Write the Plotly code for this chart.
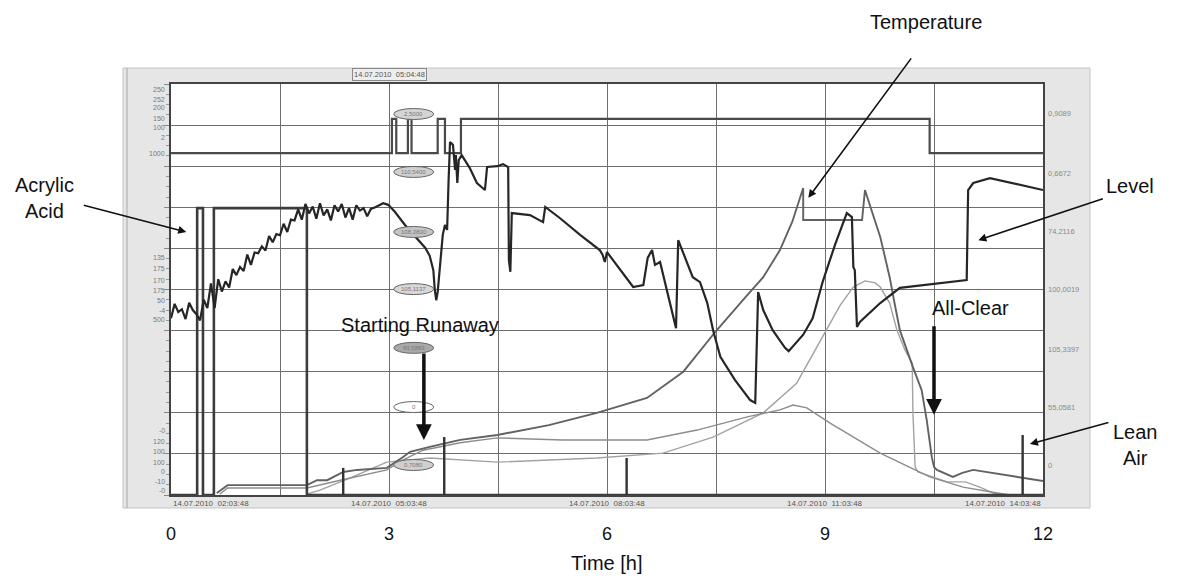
import plotly.graph_objects as go

# ---------------- data (hours since 14.07.2010 02:03:48, values in chart grid units 0-10) ----------------
LEVEL_T = [0.00, 0.05, 0.10, 0.15, 0.20, 0.25, 0.30, 0.35, 0.40, 0.45, 0.50, 0.55, 0.60, 0.65, 0.70,
           0.75, 0.80, 0.85, 0.90, 0.95, 1.00, 1.05, 1.10, 1.15, 1.20, 1.25, 1.30, 1.35, 1.40, 1.45,
           1.50, 1.55, 1.60, 1.65, 1.70, 1.75, 1.80, 1.85, 1.90, 1.95, 2.00, 2.05, 2.10, 2.15, 2.20,
           2.25, 2.30, 2.35, 2.40, 2.45, 2.50, 2.55, 2.60, 2.65, 2.70, 2.75,
           2.81, 2.92, 2.99, 3.08, 3.22, 3.36, 3.50, 3.56, 3.61, 3.63, 3.65, 3.67, 3.70, 3.74, 3.77,
           3.80, 3.82, 3.84, 3.88, 3.91, 3.92, 3.94, 3.96, 4.00, 4.11, 4.21, 4.32, 4.35, 4.49, 4.57,
           4.64, 4.65, 4.67, 4.69, 4.94, 5.12, 5.15, 5.35, 5.63, 5.90, 5.94, 5.97, 6.00, 6.18, 6.36,
           6.50, 6.56, 6.62, 6.66, 6.73, 6.95, 6.98, 7.18, 7.28, 7.38, 7.46, 7.56, 7.76, 7.97, 8.04,
           8.08, 8.15, 8.28, 8.45, 8.50, 8.70, 8.83, 8.97, 9.14, 9.30, 9.37, 9.39, 9.41, 9.44, 9.48,
           9.76, 10.03, 10.95, 10.97, 11.04, 11.27, 12.00]
LEVEL_V = [4.30, 4.65, 4.45, 4.52, 4.28, 4.68, 4.50, 4.40, 4.25, 4.75, 4.55, 5.15, 4.55, 5.25, 4.95,
           5.20, 5.05, 5.50, 5.35, 5.55, 5.45, 5.85, 5.60, 5.90, 5.88, 6.05, 5.95, 6.30, 6.15, 6.35,
           6.32, 6.60, 6.40, 6.70, 6.68, 6.95, 6.70, 7.08, 6.85, 7.02, 6.72, 7.10, 6.80, 6.95, 6.68,
           7.05, 6.90, 7.08, 6.75, 6.98, 6.70, 7.05, 6.92, 6.98, 6.78, 6.96,
           7.00, 7.10, 7.06, 6.89, 6.57, 6.28, 6.01, 5.82, 5.47, 4.99, 4.74, 4.94, 5.47, 6.33, 6.57,
           6.45, 7.66, 8.59, 8.52, 7.91, 8.27, 7.59, 8.15, 8.27, 7.96, 7.59, 7.42, 7.98, 8.00, 8.05,
           7.98, 5.72, 5.43, 6.86, 6.81, 6.64, 7.01, 6.74, 6.33, 5.96, 5.84, 5.67, 5.91, 5.47, 5.06,
           5.11, 5.77, 5.96, 5.60, 5.67, 4.06, 6.20, 5.30, 5.18, 4.67, 4.01, 3.36, 2.80, 2.31, 2.24,
           4.94, 4.50, 4.01, 3.58, 3.50, 3.90, 4.30, 5.20, 6.10, 6.86, 6.76, 5.55, 5.47, 4.09, 4.21,
           4.67, 5.04, 5.23, 7.42, 7.59, 7.71, 7.42]

TEMP_T = [0.63, 0.78, 1.87, 1.91, 2.01, 2.15, 2.28, 2.37, 2.56, 2.97, 3.19, 3.29, 3.56, 3.98, 4.49,
          5.20, 5.86, 6.55, 7.05, 7.50, 7.90, 8.15, 8.38, 8.55, 8.70, 8.70, 9.51, 9.55, 9.76, 9.89,
          9.97, 10.03, 10.21, 10.33, 10.40, 10.47, 10.50, 10.54, 10.76, 10.89, 11.04, 12.00]
TEMP_V = [0.05, 0.24, 0.24, 0.27, 0.36, 0.36, 0.49, 0.56, 0.61, 0.66, 0.92, 1.05, 1.17, 1.34, 1.46,
          1.70, 2.00, 2.36, 3.00, 3.99, 4.80, 5.30, 5.96, 6.65, 7.47, 6.69, 6.69, 7.42, 6.28, 5.30,
          4.55, 4.01, 3.11, 2.55, 1.82, 0.92, 0.68, 0.61, 0.44, 0.54, 0.61, 0.34]

CURVE2_T = [0.67, 0.78, 1.87, 1.98, 2.33, 2.97, 3.19, 3.47, 3.98, 4.49, 5.39, 6.55, 7.24, 7.93, 8.38,
            8.56, 8.75, 9.07, 9.76, 10.44, 10.90, 11.37, 11.55]
CURVE2_V = [0.02, 0.17, 0.17, 0.22, 0.36, 0.61, 0.85, 1.09, 1.27, 1.39, 1.34, 1.34, 1.58, 1.90, 2.07,
            2.19, 2.12, 1.75, 1.02, 0.44, 0.19, 0.05, 0.00]

CURVE3_T = [1.87, 2.05, 2.46, 2.97, 3.56, 4.49, 5.86, 6.77, 7.46, 8.15, 8.61, 8.97, 9.21, 9.39, 9.55,
            9.69, 9.76, 9.89, 9.99, 10.10, 10.20, 10.21, 10.24, 10.28, 10.68, 10.93, 11.13, 11.31, 11.45]
CURVE3_V = [0.02, 0.12, 0.41, 0.80, 0.90, 0.80, 0.90, 1.02, 1.41, 2.00, 2.72, 3.84, 4.62, 5.06, 5.21,
            5.16, 5.06, 4.67, 4.01, 3.53, 3.21, 2.00, 0.68, 0.56, 0.32, 0.32, 0.19, 0.05, 0.00]

# acrylic acid dosing (step signal)
ACRYL_T = [0.00, 0.36, 0.44, 0.59, 1.87, 12.00]
ACRYL_V = [0.00, 6.98, 0.00, 6.98, 0.00, 0.00]

# lean air pulses
LEAN_T = [2.37, 3.76, 6.27, 11.72]
LEAN_V = [0.66, 1.41, 0.90, 1.46]

# top digital signal
SIG_T = [0.00, 3.04, 3.10, 3.26, 3.31, 3.67, 3.77, 3.99, 10.44, 12.00]
SIG_LOW, SIG_HIGH = 8.32, 9.15
SIG_STATE = [0, 1, 0, 1, 0, 1, 0, 1, 0, 0]

X_TICKS = [0, 1.5, 3, 4.5, 6, 7.5, 9, 10.5, 12]
X_TICKTEXT = ['0', '', '3', '', '6', '', '9', '', '12']

DATE_LABELS = [(0, '14.07.2010  02:03:48', 'left'), (3, '14.07.2010  05:03:48', 'center'),
               (6, '14.07.2010  08:03:48', 'center'), (9, '14.07.2010  11:03:48', 'center'),
               (12, '14.07.2010  14:03:48', 'right')]
RIGHT_LABELS = [('0,9089', 9.29), ('0,6672', 7.83), ('74,2116', 6.42), ('100,0019', 4.99),
                ('105,3397', 3.55), ('55,0581', 2.14), ('0', 0.73)]
LEFT_LABELS = [('250', 9.86), ('252', 9.62), ('200', 9.42), ('150', 9.17), ('100', 8.95), ('2', 8.7),
               ('1000', 8.32), ('135', 5.77), ('175', 5.52), ('170', 5.23), ('175', 4.97),
               ('50', 4.74), ('-4', 4.5), ('500', 4.26), ('-0', 1.58), ('120', 1.31), ('100', 1.05),
               ('100', 0.8), ('0', 0.58), ('-10', 0.34), ('-0', 0.1)]
OVALS = [('2,5000', 9.27, '#d4d4d4'), ('110,5400', 7.86, '#cfcfcf'), ('108,2800', 6.40, '#c4c4c4'),
         ('105,1137', 5.01, '#d8d8d8'), ('83,5883', 3.58, '#a9a9a9'), ('0', 2.14, '#ffffff'),
         ('0,7080', 0.73, '#d0d0d0')]
OVAL_T = 3.34

# ---------------- figure ----------------
L, R, T, B = 171, 1043, 84, 495
W, H = 1177, 577


def pxx(px):
    return (px - L) / (R - L)


def pxy(py):
    return (B - py) / (B - T)


fig = go.Figure()

fig.add_trace(go.Scatter(x=CURVE3_T, y=CURVE3_V, mode='lines', line=dict(color='#a2a2a2', width=1.4)))
fig.add_trace(go.Scatter(x=CURVE2_T, y=CURVE2_V, mode='lines', line=dict(color='#8c8c8c', width=1.4)))
fig.add_trace(go.Scatter(x=TEMP_T, y=TEMP_V, mode='lines', line=dict(color='#626262', width=1.9)))
fig.add_trace(go.Scatter(x=SIG_T, y=[SIG_HIGH if s else SIG_LOW for s in SIG_STATE], mode='lines',
                         line=dict(color='#4a4a4a', width=2.2, shape='hv')))
fig.add_trace(go.Scatter(x=ACRYL_T, y=ACRYL_V, mode='lines', line=dict(color='#3c3c3c', width=2.6, shape='hv')))
lx, ly = [], []
for t, v in zip(LEAN_T, LEAN_V):
    lx += [t, t, None]
    ly += [0, v, None]
fig.add_trace(go.Scatter(x=lx, y=ly, mode='lines', line=dict(color='#333333', width=2.4)))
fig.add_trace(go.Scatter(x=LEVEL_T, y=LEVEL_V, mode='lines', line=dict(color='#262626', width=2.2)))

shapes = [
    dict(type='rect', xref='paper', yref='paper', x0=pxx(123), x1=pxx(1090), y0=pxy(508), y1=pxy(68),
         fillcolor='#e6e6e6', line=dict(color='#c4c4c4', width=1), layer='below'),
    dict(type='line', xref='paper', yref='paper', x0=pxx(127), x1=pxx(127), y0=pxy(508), y1=pxy(68),
         line=dict(color='#bdbdbd', width=1.5), layer='below'),
    dict(type='rect', xref='paper', yref='paper', x0=0, x1=1, y0=0, y1=1,
         fillcolor='white', line=dict(width=0), layer='below'),
]
for txt, v, fc in OVALS:
    shapes.append(dict(type='circle', xref='x', yref='y', xsizemode='pixel', ysizemode='pixel',
                       xanchor=OVAL_T, yanchor=v, x0=-20, x1=20, y0=-5.5, y1=5.5,
                       fillcolor=fc, line=dict(color='#666666', width=1), layer='above'))

ann = []
for t, txt, al in DATE_LABELS:
    ann.append(dict(x=t, y=0, xref='x', yref='y', text=txt, showarrow=False, xanchor=al, yanchor='top',
                    yshift=-2, font=dict(size=8, color='#555555', family='Liberation Sans')))
for txt, v in RIGHT_LABELS:
    ann.append(dict(x=1, y=v, xref='paper', yref='y', text=txt, showarrow=False, xanchor='left',
                    yanchor='middle', xshift=3, font=dict(size=7.5, color='#8a8a8a', family='Liberation Sans')))
for txt, v in LEFT_LABELS:
    ann.append(dict(x=0, y=v, xref='paper', yref='y', text=txt, showarrow=False, xanchor='right',
                    yanchor='middle', xshift=-4, font=dict(size=7, color='#7a7a7a', family='Liberation Sans')))
for txt, v, fc in OVALS:
    ann.append(dict(x=OVAL_T, y=v, xref='x', yref='y', text=txt, showarrow=False,
                    xanchor='center', yanchor='middle',
                    font=dict(size=6, color='#777777', family='Liberation Sans')))
ann.append(dict(x=3.0, y=1, xref='x', yref='paper', text='14.07.2010  05:04:48', showarrow=False,
                xanchor='center', yanchor='bottom', yshift=3, bgcolor='#eeeeee', bordercolor='#8a8a8a',
                borderwidth=1, borderpad=1, font=dict(size=7.5, color='#555555', family='Liberation Sans')))

BIG = dict(size=20, color='#111111', family='Liberation Sans')
for txt, px, py in [('Temperature', 926, 22), ('Acrylic<br>Acid', 44, 198), ('Level', 1130, 186),
                    ('Lean<br>Air', 1135, 445), ('Starting Runaway', 420, 325), ('All-Clear', 970, 308),
                    ('Time [h]', 607, 563)]:
    ann.append(dict(x=pxx(px), y=pxy(py), xref='paper', yref='paper', text=txt, showarrow=False,
                    xanchor='center', yanchor='middle', font=BIG, align='center'))

for hx, hy, ax, ay, w in [(8.77, 7.23, 104, -141, 1.6), (0.21, 6.40, -104, -27, 1.6),
                          (11.11, 6.20, 126, -42, 1.6), (11.82, 1.24, 80, -22, 1.6),
                          (3.48, 1.34, 0, -88, 3.5), (10.50, 1.95, 0, -90, 3.5)]:
    ann.append(dict(x=hx, y=hy, xref='x', yref='y', text='', showarrow=True, ax=ax, ay=ay,
                    arrowhead=2, arrowsize=1.0 if w < 2 else 0.9, arrowwidth=w, arrowcolor='#111111'))

fig.update_layout(
    width=W, height=H, margin=dict(l=L, r=W - R, t=T, b=H - B),
    paper_bgcolor='white', plot_bgcolor='rgba(0,0,0,0)', showlegend=False,
    shapes=shapes, annotations=ann,
    xaxis=dict(range=[0, 12], tickvals=X_TICKS, ticktext=X_TICKTEXT, showgrid=True,
               gridcolor='#6e6e6e', gridwidth=1.2, zeroline=False, showline=True, mirror=True,
               linecolor='#444444', linewidth=1.5, ticks='outside', ticklen=22,
               tickcolor='rgba(0,0,0,0)', tickfont=dict(size=18, color='#111111', family='Liberation Sans')),
    yaxis=dict(range=[0, 10], tick0=0, dtick=1, showgrid=True, gridcolor='#6e6e6e', gridwidth=1.2,
               zeroline=False, showline=True, mirror=True, linecolor='#444444', linewidth=1.5,
               showticklabels=False, ticks='outside', ticklen=5, tickcolor='#888888',
               minor=dict(dtick=0.25, ticks='outside', ticklen=3, tickcolor='#999999', showgrid=False)),
)

fig.write_html("out.html", config={'displayModeBar': False},
               post_script="document.body.style.margin='0';")
